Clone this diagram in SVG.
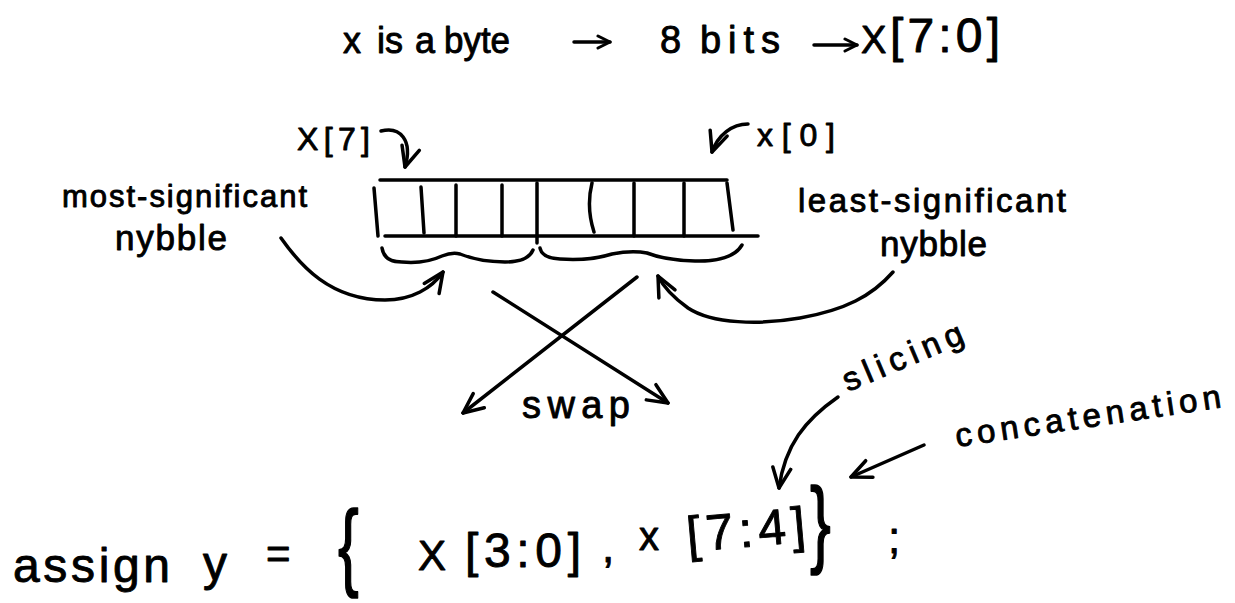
<svg xmlns="http://www.w3.org/2000/svg" width="1235" height="603" viewBox="0 0 1235 603">
<style>
.ink{fill:none;stroke:#000;stroke-width:3.5;stroke-linecap:round;stroke-linejoin:round}
.t{font-family:"Liberation Sans",Arial,sans-serif;fill:#000;stroke:#000;stroke-width:0.9;stroke-linejoin:round}
</style>
<defs>
<marker id="arr" viewBox="0 0 24 24" refX="22" refY="12" markerWidth="24" markerHeight="24" markerUnits="userSpaceOnUse" orient="auto">
<path d="M2,3 L22,12 L2,21" fill="none" stroke="#000" stroke-width="3.5" stroke-linecap="round" stroke-linejoin="round"/>
</marker>
<marker id="arrSm" viewBox="0 0 16 16" refX="14" refY="8" markerWidth="16" markerHeight="16" markerUnits="userSpaceOnUse" orient="auto">
<path d="M2,2 L14,8 L2,14" fill="none" stroke="#000" stroke-width="3" stroke-linecap="round" stroke-linejoin="round"/>
</marker>
</defs>
<rect width="1235" height="603" fill="#fff"/>

<g id="title">
<text class="t" x="343" y="53" font-size="36">x</text>
<text class="t" x="377" y="53" font-size="36" textLength="26" lengthAdjust="spacingAndGlyphs">is</text>
<text class="t" x="415" y="53" font-size="36">a</text>
<text class="t" x="444" y="53" font-size="36" textLength="66" lengthAdjust="spacingAndGlyphs">byte</text>
<text class="t" x="660" y="53" font-size="38">8</text>
<text class="t" x="700" y="53" font-size="38" textLength="80" lengthAdjust="spacing">bits</text>
<text class="t" x="861" y="53" font-size="38">X</text>
<text class="t" x="890" y="52" font-size="48" textLength="110" lengthAdjust="spacing">[7:0]</text>
</g>

<g id="register">
<path class="ink" d="M380,180 L727,180 M385,236 L758,236"/>
<path class="ink" d="M374,188 L378,236 M421,187 L424,233 M456,185 L456,236 M502,185 L502,236 M537,183 L537,243 M592,183 Q586,207 594,232 M634,183 L634,236 M684,183 L684,236 M727,183 L733,230"/>
<path class="ink" d="M382,248 Q384,262 402,262 Q425,264 442,256 Q452,252 460,254 Q480,262 505,262 Q528,262 533,250"/>
<path class="ink" d="M540,248 Q542,258 560,259 Q590,261 612,254 Q632,250 647,253 Q665,260 695,261 Q732,262 742,245"/>
</g>

<g id="label-x7"><text class="t" x="297" y="150" font-size="32" textLength="73" lengthAdjust="spacing">X[7]</text></g>
<g id="label-x0"><text class="t" x="757" y="146" font-size="32" textLength="78" lengthAdjust="spacing">x[0]</text></g>

<g id="label-msn">
<text class="t" x="62" y="207" font-size="31" textLength="245" lengthAdjust="spacing">most-significant</text>
<text class="t" x="115" y="250" font-size="35" textLength="112" lengthAdjust="spacing">nybble</text>
</g>

<g id="label-lsn">
<text class="t" x="798" y="212" font-size="33" textLength="268" lengthAdjust="spacing">least-significant</text>
<text class="t" x="880" y="256" font-size="35" textLength="107" lengthAdjust="spacing">nybble</text>
</g>

<g id="label-swap"><text class="t" x="522" y="418" font-size="38" textLength="108" lengthAdjust="spacing">swap</text></g>

<g id="label-slicing"><text class="t" x="848" y="392" font-size="33" textLength="128" lengthAdjust="spacing" transform="rotate(-23 848 392)">slicing</text></g>

<g id="label-concat"><text class="t" x="957" y="447" font-size="33" textLength="268" lengthAdjust="spacing" transform="rotate(-8.5 957 447)">concatenation</text></g>

<g id="statement">
<text class="t" x="13" y="582" font-size="48" textLength="157" lengthAdjust="spacing">assign</text>
<text class="t" x="203" y="580" font-size="48">y</text>
<text class="t" x="266" y="568" font-size="42">=</text>
<text class="t" font-size="52" transform="translate(338,578) scale(1.2,1.85)">{</text>
<text class="t" x="418" y="570" font-size="42">X</text>
<text class="t" x="465" y="567" font-size="48" textLength="116" lengthAdjust="spacing">[3:0]</text>
<text class="t" x="602" y="562" font-size="44">,</text>
<text class="t" x="639" y="550" font-size="40">x</text>
<text class="t" x="688" y="552" font-size="50" textLength="119" lengthAdjust="spacing" transform="rotate(-5 688 552)">[7:4]</text>
<text class="t" font-size="52" transform="translate(810,555) scale(1.2,1.85)">}</text>
<text class="t" x="888" y="553" font-size="44">;</text>
</g>

<g id="connectors">
<path class="ink" d="M574,42 L610,42" marker-end="url(#arrSm)"/>
<path class="ink" d="M814,45 L857,45" marker-end="url(#arrSm)"/>
<path class="ink" d="M381,131 C400,126 413,140 405,167" marker-end="url(#arr)"/>
<path class="ink" d="M748,124 C732,124 718,135 712,152" marker-end="url(#arr)"/>
<path class="ink" d="M281,238 C300,265 330,300 385,300 C412,300 432,288 443,272" marker-end="url(#arr)"/>
<path class="ink" d="M893,272 C872,296 845,310 800,318 C760,325 712,324 688,308 C674,298 664,288 658,276" marker-end="url(#arr)"/>
<path class="ink" d="M493,292 L668,403" marker-end="url(#arr)"/>
<path class="ink" d="M637,277 L463,413" marker-end="url(#arr)"/>
<path class="ink" d="M838,397 C805,420 785,445 779,488" marker-end="url(#arr)"/>
<path class="ink" d="M924,445 L851,477" marker-end="url(#arr)"/>
</g>
</svg>
